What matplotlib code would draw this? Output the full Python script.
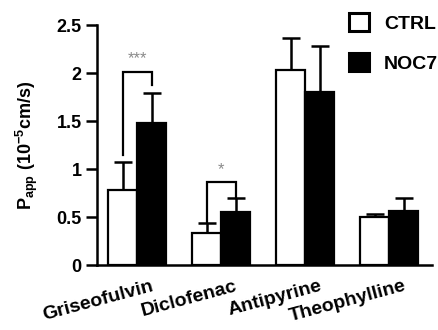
import matplotlib
matplotlib.use("Agg")
import matplotlib.pyplot as plt
from matplotlib.patches import Patch
import numpy as np

plt.rcParams['font.family'] = ['Liberation Sans', 'DejaVu Sans']
plt.rcParams['font.weight'] = 'bold'
plt.rcParams['mathtext.fontset'] = 'custom'
plt.rcParams['mathtext.rm'] = 'Liberation Sans:bold'
plt.rcParams['mathtext.default'] = 'rm'

categories = ["Griseofulvin", "Diclofenac", "Antipyrine", "Theophylline"]
ctrl_mean = [0.78, 0.33, 2.03, 0.50]
ctrl_err = [0.29, 0.11, 0.33, 0.03]
noc7_mean = [1.48, 0.55, 1.80, 0.56]
noc7_err = [0.31, 0.15, 0.48, 0.14]
series_labels = ["CTRL", "NOC7"]
yticks = [0, 0.5, 1, 1.5, 2, 2.5]
ytick_labels = ["0", "0.5", "1", "1.5", "2", "2.5"]
# significance: (group index, bracket top, left leg bottom, right leg bottom, label)
sig_groups = [0, 1]
sig_top = [2.01, 0.86]
sig_left_bottom = [1.15, 0.45]
sig_right_bottom = [1.88, 0.70]
sig_labels = ["***", "*"]

W, H = 438, 330
fig = plt.figure(figsize=(W / 100, H / 100), dpi=100)
ax = fig.add_axes([97 / W, 1 - 265 / H, (432 - 97) / W, 240 / H])

x = np.arange(len(categories))
w = 0.345
lw = 1.6
ax.bar(x - w / 2, ctrl_mean, w, color='white', edgecolor='black', linewidth=lw, zorder=3)
ax.bar(x + w / 2, noc7_mean, w, color='black', edgecolor='black', linewidth=lw, zorder=3)
ax.errorbar(x - w / 2, ctrl_mean, yerr=[np.zeros(4), ctrl_err], fmt='none', ecolor='black',
            elinewidth=1.8, capsize=6.5, capthick=1.8, zorder=2)
ax.errorbar(x + w / 2, noc7_mean, yerr=[np.zeros(4), noc7_err], fmt='none', ecolor='black',
            elinewidth=1.8, capsize=6.5, capthick=1.8, zorder=2)

for g, top, lb, rb, lab in zip(sig_groups, sig_top, sig_left_bottom, sig_right_bottom, sig_labels):
    xl, xr = g - w / 2, g + w / 2
    ax.plot([xl, xl, xr, xr], [lb, top, top, rb], color='black', lw=1.6, zorder=4,
            solid_joinstyle='miter')
    ax.text(g, top + 0.06, lab, ha='center', va='bottom', color='#8a8a8a',
            fontsize=12, fontweight='normal')

ax.set_xlim(-0.476, 3.51)
ax.set_ylim(0, 2.5)
ax.set_yticks(yticks)
ax.set_yticklabels(ytick_labels, fontsize=13, fontweight='bold')
ax.set_xticks(x + 0.22)
ax.set_xticklabels(categories, fontsize=14, fontweight='bold', rotation=15, ha='right')
ax.tick_params(axis='x', length=0, pad=9)
ax.tick_params(axis='y', length=8, width=1.8, direction='out', pad=3)
for s in ['top', 'right']:
    ax.spines[s].set_visible(False)
for s in ['left', 'bottom']:
    ax.spines[s].set_linewidth(1.8)

ax.set_ylabel(r'P$_{app}$ (10$^{-5}$cm/s)', fontsize=13, fontweight='bold', labelpad=12)

handles = [Patch(facecolor='white', edgecolor='black', linewidth=2.2),
           Patch(facecolor='black', edgecolor='black', linewidth=2.2)]
fig.legend(handles, series_labels, loc='upper left', bbox_to_anchor=(349 / W, 1 - 13 / H),
           frameon=False, handlelength=1.05, handleheight=1.05,
           handletextpad=0.75, labelspacing=1.05, borderpad=0, borderaxespad=0,
           prop={'weight': 'bold', 'size': 14})

fig.savefig('out.png', dpi=100)
